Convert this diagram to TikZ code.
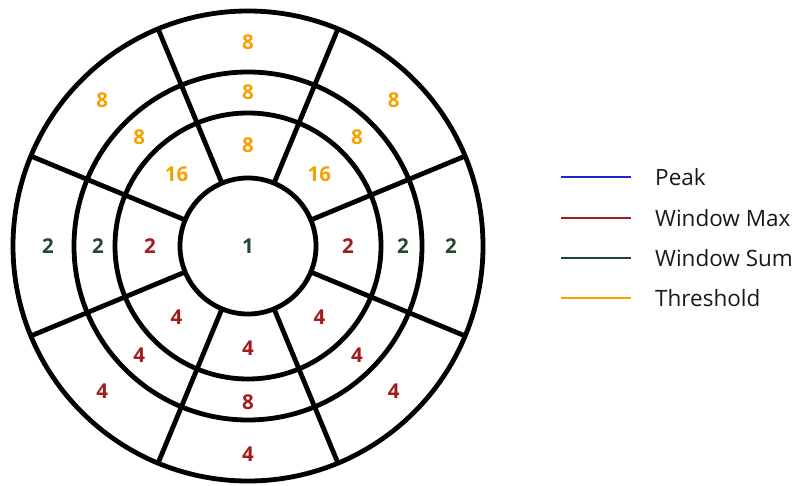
\documentclass[tikz,border=0pt]{standalone}
\usepackage{fontspec}
\setmainfont{Open Sans}
\usepackage{tikz}
\usetikzlibrary{positioning}
\definecolor{peakblue}{HTML}{2424C8}
\definecolor{maxred}{HTML}{A31C1C}
\definecolor{sumgreen}{HTML}{1F4A30}
\definecolor{threshorange}{HTML}{F7A000}
\tikzstyle{ring} = [line width=4.8pt, draw=black]
\tikzstyle{val} = [font=\bfseries\fontsize{20.5}{25}\selectfont, inner sep=0pt]
\tikzstyle{legline} = [line width=2.5pt]
\tikzstyle{legtext} = [font=\fontsize{22.5}{26}\selectfont, anchor=west, inner sep=0pt, node distance=24pt, text=black!90]

\begin{document}
\begin{tikzpicture}[x=1pt, y=1pt]
    \useasboundingbox (0,0) rectangle (799,485);
    \coordinate (c) at (248,239);

    % rings and spokes
    \draw[ring] (c) circle[radius=68];
    \draw[ring] (c) circle[radius=133];
    \draw[ring] (c) circle[radius=174];
    \draw[ring] (c) circle[radius=235];
    \foreach \a in {22.5,67.5,...,337.5}
        \draw[ring] (c) ++(\a:68) -- ++(\a:167);

    % centre
    \node[val, text=sumgreen] (core) at (c) {1};

    % first ring
    \node[val, text=threshorange] (ia) at ([shift={(90:101)}]c) {8};
    \node[val, text=threshorange] (ib) at ([shift={(135:101)}]c) {16};
    \node[val, text=threshorange] (ic) at ([shift={(45:101)}]c) {16};
    \node[val, text=maxred] (id) at ([shift={(180:98)}]c) {2};
    \node[val, text=maxred] (ie) at ([shift={(0:100)}]c) {2};
    \node[val, text=maxred] (if) at ([shift={(225:101)}]c) {4};
    \node[val, text=maxred] (ig) at ([shift={(315:101)}]c) {4};
    \node[val, text=maxred] (ih) at ([shift={(270:102)}]c) {4};

    % second ring
    \node[val, text=threshorange] (ma) at ([shift={(90:154)}]c) {8};
    \node[val, text=threshorange] (mb) at ([shift={(135:154)}]c) {8};
    \node[val, text=threshorange] (mc) at ([shift={(45:154)}]c) {8};
    \node[val, text=sumgreen] (md) at ([shift={(180:150)}]c) {2};
    \node[val, text=sumgreen] (me) at ([shift={(0:155)}]c) {2};
    \node[val, text=maxred] (mf) at ([shift={(225:154)}]c) {4};
    \node[val, text=maxred] (mg) at ([shift={(315:154)}]c) {4};
    \node[val, text=maxred] (mh) at ([shift={(270:156)}]c) {8};

    % outer ring
    \node[val, text=threshorange] (oa) at ([shift={(90:204)}]c) {8};
    \node[val, text=threshorange] (ob) at ([shift={(135:206)}]c) {8};
    \node[val, text=threshorange] (oc) at ([shift={(45:206)}]c) {8};
    \node[val, text=sumgreen] (od) at ([shift={(180:200)}]c) {2};
    \node[val, text=sumgreen] (oe) at ([shift={(0:203)}]c) {2};
    \node[val, text=maxred] (of) at ([shift={(225:206)}]c) {4};
    \node[val, text=maxred] (og) at ([shift={(315:206)}]c) {4};
    \node[val, text=maxred] (oh) at ([shift={(270:208)}]c) {4};

    % legend
    \coordinate (pk0) at (561,308);
    \coordinate (pk1) at (631,308);
    \coordinate (wm0) at (561,267);
    \coordinate (wm1) at (631,267);
    \coordinate (ws0) at (561,227);
    \coordinate (ws1) at (631,227);
    \coordinate (th0) at (561,187);
    \coordinate (th1) at (631,187);
    \draw[legline, peakblue] (pk0) -- (pk1);
    \draw[legline, maxred] (wm0) -- (wm1);
    \draw[legline, sumgreen] (ws0) -- (ws1);
    \draw[legline, threshorange] (th0) -- (th1);
    \node[legtext, right=of pk1] (peak) {Peak};
    \node[legtext, right=of wm1] (wmax) {Window Max};
    \node[legtext, right=of ws1] (wsum) {Window Sum};
    \node[legtext, right=of th1] (thr) {Threshold};
\end{tikzpicture}
\end{document}
